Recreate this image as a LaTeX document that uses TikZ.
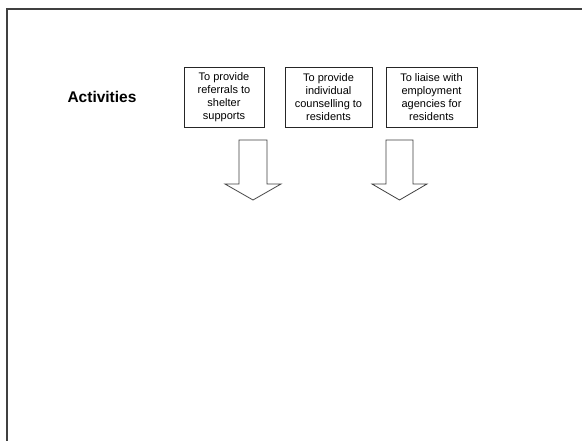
\documentclass[tikz,border=0pt]{standalone}
\usepackage{fontspec}
\setmainfont{Liberation Sans}
\begin{document}
\begin{tikzpicture}[x=1pt,y=-1pt,
  actbox/.style={draw=black!85, line width=0.9pt, minimum height=60pt, inner sep=0pt, align=center,
    font=\fontsize{11}{13.2}\selectfont},
  blockarrow/.style={draw=black!75, line width=0.8pt, fill=white, line join=miter},
  frameline/.style={draw=black!75, line width=1.4pt}]
\useasboundingbox (0,0) rectangle (582,441);
\fill[white] (0,0) rectangle (582,441);
\draw[frameline] (7,441) -- (7,9) -- (582,9);
\node[font=\fontsize{15.5}{18}\selectfont\bfseries] (title) at (102,97) {Activities};
\node[actbox, minimum width=80pt] (b1) at (224,97) {To provide\\referrals to\\shelter\\supports};
\node[actbox, minimum width=87pt] (b2) at (328.5,97) {To provide\\individual\\counselling to\\residents};
\node[actbox, minimum width=91pt] (b3) at (431.5,97) {To liaise with\\employment\\agencies for\\residents};
\draw[blockarrow] (239,140) -- (267,140) -- (267,184) -- (281,184) -- (253,200) -- (225,184) -- (239,184) -- cycle;
\draw[blockarrow] (386,140) -- (413,140) -- (413,184) -- (427,184) -- (399.5,200) -- (372,184) -- (386,184) -- cycle;
\end{tikzpicture}
\end{document}
